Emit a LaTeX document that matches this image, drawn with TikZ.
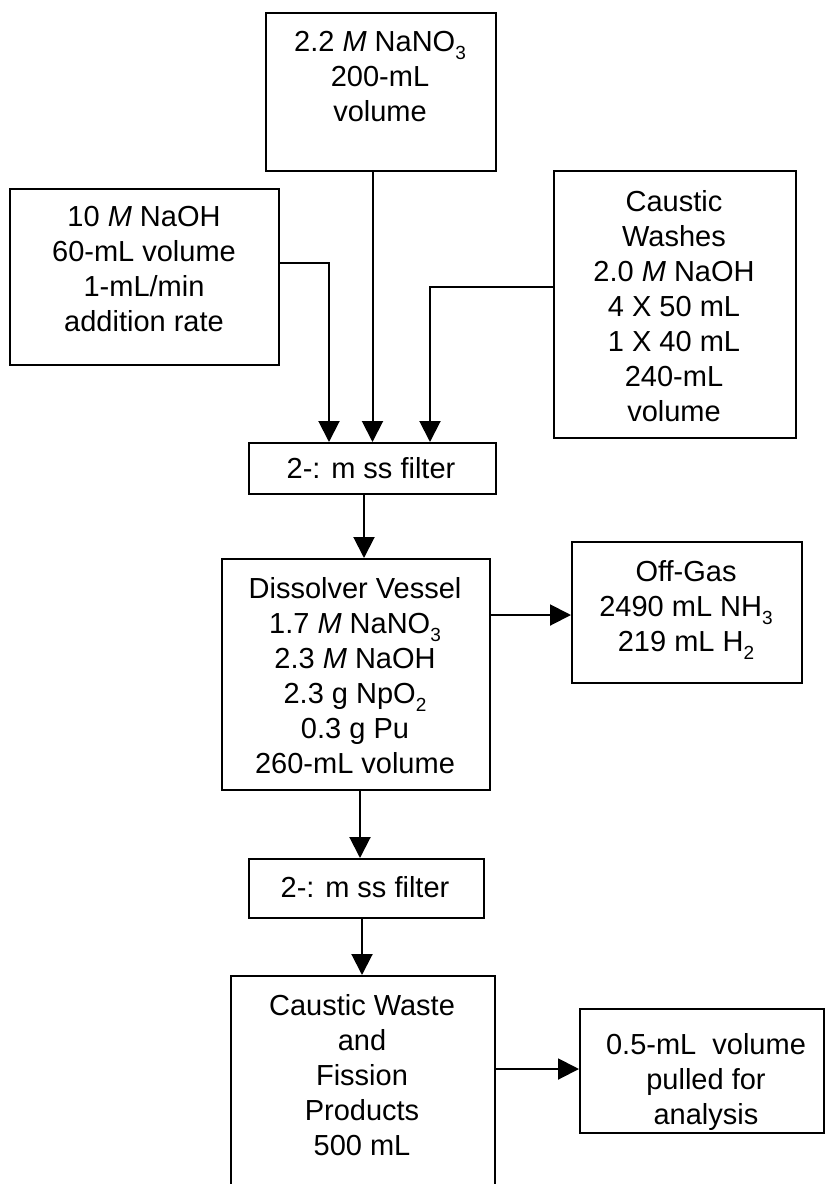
\documentclass[tikz,border=0pt]{standalone}
\usepackage{fontspec}
\setmainfont{Liberation Sans}
\usetikzlibrary{arrows.meta}

% chemical-formula subscript: smaller digit, lowered below the baseline
\newcommand{\chemsub}[1]{\raisebox{-8pt}{\fontsize{19}{19}\selectfont #1}}

\tikzset{
  box/.style={draw, line width=2pt, rectangle, inner sep=0pt, anchor=north west},
  txt/.style={align=center, inner sep=0pt, anchor=north, font=\fontsize{29}{35}\selectfont},
  flow/.style={line width=2pt, -{Triangle[length=21pt,width=21pt]}},
}

\begin{document}
\begin{tikzpicture}[x=1pt, y=-1pt]
\clip (0,0) rectangle (825,1184);

% feed boxes
\node[box, minimum width=230pt, minimum height=158pt] (nitrate) at (265,12) {};
\node[txt] (nitrateT) at (380,31) {2.2 \textit{M} NaNO\chemsub{3}\\200-mL\\volume};

\node[box, minimum width=269pt, minimum height=176pt] (naoh) at (9,188) {};
\node[txt] (naohT) at (144,206) {10 \textit{M} NaOH\\60-mL volume\\1-mL/min\\addition rate};

\node[box, minimum width=242pt, minimum height=267pt] (washes) at (553,170) {};
\node[txt] (washesT) at (674,190) {Caustic\\Washes\\2.0 \textit{M} NaOH\\4 X 50 mL\\1 X 40 mL\\240-mL\\volume};

% first filter
\node[box, minimum width=247pt, minimum height=51pt] (filterA) at (248,442) {};
\node[txt, anchor=center] (filterAT) at (371,468) {2-: m ss filter};

% dissolver and off-gas
\node[box, minimum width=268pt, minimum height=231pt] (diss) at (221,558) {};
\node[txt] (dissT) at (355,577) {Dissolver Vessel\\1.7 \textit{M} NaNO\chemsub{3}\\2.3 \textit{M} NaOH\\2.3 g NpO\chemsub{2}\\0.3 g Pu\\260-mL volume};

\node[box, minimum width=230pt, minimum height=141pt] (offgas) at (571,541) {};
\node[txt] (offgasT) at (686,560) {Off-Gas\\2490 mL NH\chemsub{3}\\219 mL H\chemsub{2}};

% second filter
\node[box, minimum width=235pt, minimum height=59pt] (filterB) at (248,858) {};
\node[txt, anchor=center] (filterBT) at (365,887) {2-: m ss filter};

% waste and sample
\node[box, minimum width=264pt, minimum height=240pt] (waste) at (230,975) {};
\node[txt] (wasteT) at (362,994) {Caustic Waste\\and\\Fission\\Products\\500 mL};

\node[box, minimum width=244pt, minimum height=124pt] (sample) at (579,1008) {};
\node[txt] (sampleT) at (706,1033) {0.5-mL\ \ volume\\pulled for\\analysis};

% connector routes
\coordinate (jl) at (329,263);
\coordinate (jr) at (430,287);
\coordinate (c1) at (364,0);
\coordinate (c2) at (0,615);
\coordinate (c3) at (360,0);
\coordinate (c4) at (362,0);
\coordinate (c5) at (0,1069);

\draw[flow] (nitrate.south -| filterA.north) -- (filterA.north);
\draw[flow] (naoh.east |- jl) -- (jl) -- (jl |- filterA.north);
\draw[flow] (washes.west |- jr) -- (jr) -- (jr |- filterA.north);
\draw[flow] (filterA.south -| c1) -- (diss.north -| c1);
\draw[flow] (diss.east |- c2) -- (offgas.west |- c2);
\draw[flow] (diss.south -| c3) -- (filterB.north -| c3);
\draw[flow] (filterB.south -| c4) -- (waste.north -| c4);
\draw[flow] (waste.east |- c5) -- (sample.west |- c5);
\end{tikzpicture}
\end{document}
